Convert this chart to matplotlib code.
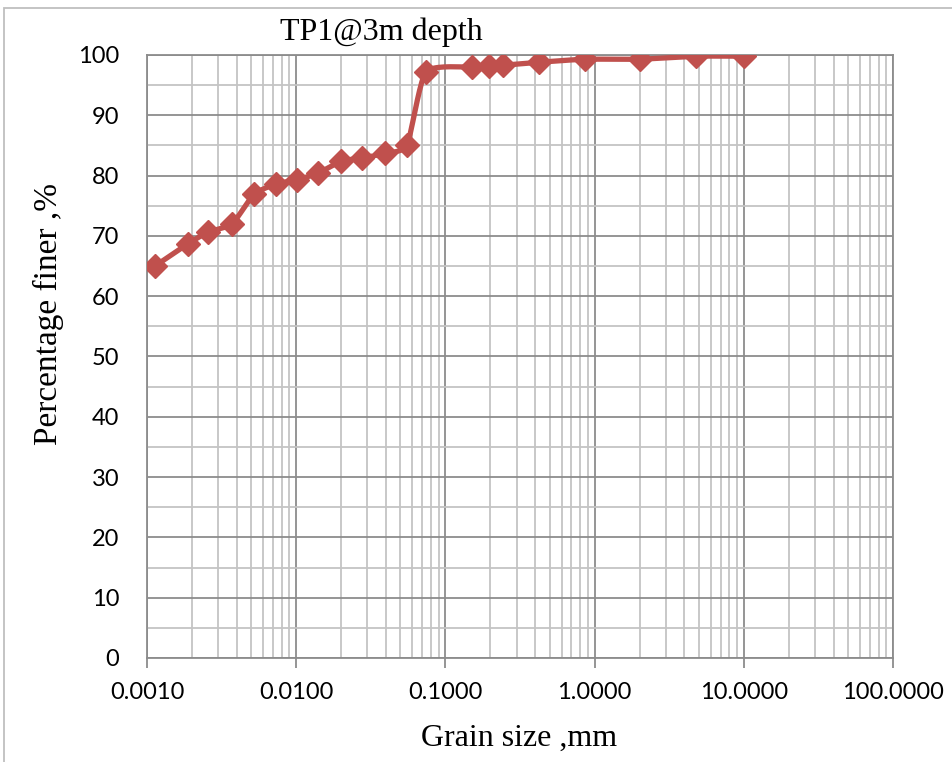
import numpy as np
import matplotlib.pyplot as plt
from matplotlib.patches import Rectangle
from matplotlib.ticker import FixedLocator, FuncFormatter, MultipleLocator

# Grain size distribution, TP1 at 3 m
grain_mm = [0.00113, 0.00188, 0.00256, 0.00372, 0.00521, 0.00733, 0.0101,
            0.0140, 0.0200, 0.0276, 0.0393, 0.0553, 0.0741, 0.150, 0.196,
            0.243, 0.425, 0.863, 2.00, 4.75, 10.0]
pct_finer = [65.0, 68.7, 70.6, 72.0, 76.9, 78.6, 79.3, 80.4, 82.4, 82.9,
             83.7, 85.1, 97.2, 98.0, 98.2, 98.3, 98.8, 99.3, 99.3, 99.8, 99.8]

RED = '#C0504D'


def smooth_curve(x, y, n=20):
    """Catmull-Rom through the points in log-x / linear-y space."""
    lx = np.log10(x) * 149.2
    ly = np.asarray(y) * 6.03
    px = np.concatenate([[lx[0]], lx, [lx[-1]]])
    py = np.concatenate([[ly[0]], ly, [ly[-1]]])
    outx, outy = [], []
    t = np.linspace(0, 1, n)
    for i in range(1, len(px) - 2):
        p0, p1, p2, p3 = [np.array([px[j], py[j]]) for j in range(i - 1, i + 3)]
        m1 = (p2 - p0) / 2 * 0.6
        m2 = (p3 - p1) / 2 * 0.6
        h00 = 2 * t**3 - 3 * t**2 + 1
        h10 = t**3 - 2 * t**2 + t
        h01 = -2 * t**3 + 3 * t**2
        h11 = t**3 - t**2
        seg = (np.outer(h00, p1) + np.outer(h10, m1) +
               np.outer(h01, p2) + np.outer(h11, m2))
        outx.extend(seg[:, 0])
        outy.extend(seg[:, 1])
    return 10 ** (np.array(outx) / 149.2), np.array(outy) / 6.03


fig = plt.figure(figsize=(9.53, 7.62), dpi=100)
ax = fig.add_axes([147 / 953, 1 - 658 / 762, 746 / 953, 603 / 762])

sx, sy = smooth_curve(grain_mm, pct_finer)
ax.plot(sx, sy, color=RED, lw=3.8, zorder=3, solid_capstyle='round')
ax.plot(grain_mm, pct_finer, ls='none', marker='D', ms=12.5, color=RED, zorder=4)

ax.set_xscale('log')
ax.set_xlim(0.001, 100)
ax.set_ylim(0, 100)

ax.xaxis.set_major_locator(FixedLocator([0.001, 0.01, 0.1, 1, 10, 100]))
ax.xaxis.set_minor_locator(FixedLocator(
    [m * 10.0**e for e in range(-3, 2) for m in range(2, 10)]))
ax.xaxis.set_major_formatter(FuncFormatter(lambda v, p: f'{v:.4f}'))
ax.xaxis.set_minor_formatter(FuncFormatter(lambda v, p: ''))
ax.yaxis.set_major_locator(MultipleLocator(10))
ax.yaxis.set_minor_locator(MultipleLocator(5))

ax.grid(which='major', color='#8C8C8C', lw=1.3)
ax.grid(which='minor', color='#C4C4C4', lw=1.3)
ax.set_axisbelow(True)

for s in ax.spines.values():
    s.set_color('#8C8C8C')
    s.set_linewidth(1.3)

ax.tick_params(axis='x', which='major', length=7, width=1.3, color='#8C8C8C', pad=10)
ax.tick_params(axis='x', which='minor', length=0)
ax.tick_params(axis='y', which='both', length=0, pad=20)
for lbl in ax.get_xticklabels() + ax.get_yticklabels():
    lbl.set_fontfamily('Lato')
    lbl.set_fontsize(17)

serif = dict(family='Liberation Serif', ha='center', va='center')
fig.text(519 / 953, 1 - 738 / 762, 'Grain size ,mm', fontsize=23, **serif)
fig.text(48 / 953, 1 - 314 / 762, 'Percentage finer ,%', fontsize=24,
         rotation=90, **serif)
fig.text(381 / 953, 1 - 32 / 762, 'TP1@3m depth', fontsize=23, **serif)

# chart-area border
fig.patches.append(Rectangle((4 / 953, -0.1), 1.2, 1 - 8 / 762 + 0.1,
                             transform=fig.transFigure, fill=False,
                             ec='#BFBFBF', lw=1.3))

fig.savefig('out.png', dpi=100)
